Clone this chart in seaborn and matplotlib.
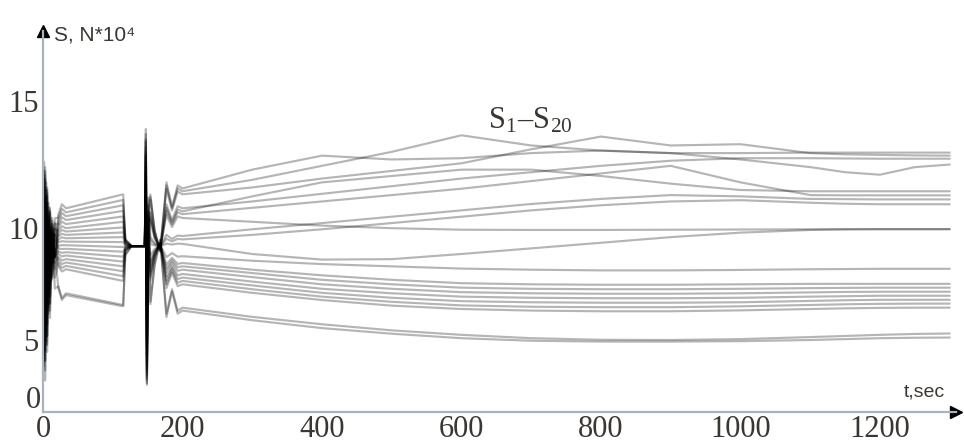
import numpy as np
import pandas as pd
import matplotlib
matplotlib.use("Agg")
import matplotlib.pyplot as plt
import seaborn as sns
from matplotlib.ticker import FixedLocator, NullLocator, FixedFormatter

# ---------------- data ----------------
t = [0, 1.5, 3, 4.5, 6, 8, 10, 13, 17, 22, 27, 33,
     115, 118, 127, 146,
     147.5, 149, 151, 154, 160, 168, 177, 185, 193,
     200, 300, 400, 500, 600, 700, 800, 900, 1000, 1100, 1150, 1200, 1250, 1300]

s01 = [9.2, 12.6, 2.2, 11.8, 4.2, 11.0, 6.0, 10.4, 8.79, 10.54, 10.94, 10.78,
       11.33, 9.52, 9.2, 9.2,
       13.9, 2.0, 11.0, 11.32, 9.91, 8.96, 11.8, 10.85, 11.68,
       11.56, 12.3, 12.85, 12.7, 12.75, 12.95, 13.05, 12.95, 12.7, 12.4, 12.2, 12.1, 12.4, 12.5]
s02 = [9.2, 5.6, 11.12, 6.5, 10.64, 7.4, 10.16, 8.3, 10.39, 10.41, 10.76, 10.62,
       11.11, 9.49, 9.2, 9.2,
       12.6, 4.5, 10.2, 11.23, 9.88, 8.98, 11.68, 10.78, 11.56,
       11.45, 11.9, 12.45, 13.0, 13.65, 13.25, 13.05, 12.95, 12.95, 12.97, 12.97, 12.97, 12.97, 12.97]
s03 = [9.2, 12.26, 2.9, 11.54, 4.7, 10.82, 6.32, 10.28, 8.76, 10.28, 10.60, 10.47,
       10.90, 9.46, 9.2, 9.2,
       13.5, 2.6, 10.8, 11.12, 9.84, 8.99, 11.54, 10.69, 11.44,
       11.33, 11.6, 11.95, 12.25, 12.55, 13.1, 13.6, 13.25, 13.3, 12.95, 12.9, 12.88, 12.86, 12.85]
s04 = [9.2, 6.2, 10.8, 6.95, 10.4, 7.7, 10.0, 8.45, 10.16, 10.15, 10.43, 10.32,
       10.68, 9.42, 9.2, 9.2,
       11.8, 5.5, 9.9, 10.62, 9.67, 9.04, 10.94, 10.31, 10.86,
       10.78, 11.05, 11.35, 11.65, 11.95, 12.2, 12.45, 12.65, 12.75, 12.75, 12.74, 12.73, 12.73, 12.73]
s05 = [9.2, 11.92, 3.6, 11.28, 5.2, 10.64, 6.64, 10.16, 8.72, 10.02, 10.26, 10.16,
       10.46, 9.39, 9.2, 9.2,
       13.0, 3.2, 10.7, 10.51, 9.64, 9.05, 10.81, 10.22, 10.73,
       10.66, 11.25, 11.8, 12.05, 12.3, 12.3, 12.05, 11.75, 11.5, 11.45, 11.45, 11.45, 11.45, 11.45]
s06 = [9.2, 6.5, 10.64, 7.18, 10.28, 7.85, 9.92, 8.53, 9.96, 9.88, 10.08, 10.0,
       10.25, 9.36, 9.2, 9.2,
       11.2, 6.0, 9.6, 10.42, 9.61, 9.07, 10.69, 10.15, 10.62,
       10.55, 10.8, 11.05, 11.3, 11.55, 11.85, 12.15, 12.45, 11.8, 11.3, 11.29, 11.29, 11.29, 11.29]
s07 = [9.2, 11.58, 4.3, 11.02, 5.7, 10.46, 6.96, 10.04, 8.69, 9.75, 9.92, 9.85,
       10.03, 9.32, 9.2, 9.2,
       12.2, 3.8, 10.4, 10.28, 9.56, 9.08, 10.52, 10.04, 10.46,
       10.4, 10.25, 10.1, 10.0, 9.93, 9.92, 9.92, 9.93, 9.94, 9.95, 9.96, 9.96, 9.96, 9.96]
s08 = [9.2, 3.5, 12.24, 4.93, 11.48, 6.35, 10.72, 7.78, 10.21, 9.63, 9.75, 9.7,
       9.81, 9.29, 9.2, 9.2,
       13.7, 1.9, 11.2, 9.61, 9.34, 9.16, 9.7, 9.52, 9.67,
       9.65, 9.95, 10.2, 10.45, 10.7, 10.95, 11.15, 11.3, 11.25, 11.15, 11.14, 11.13, 11.13, 11.13]
s09 = [9.2, 11.07, 5.35, 10.63, 6.45, 10.19, 7.44, 9.86, 8.72, 9.50, 9.59, 9.55,
       9.60, 9.26, 9.2, 9.2,
       11.5, 5.0, 9.8, 9.47, 9.29, 9.17, 9.53, 9.41, 9.52,
       9.5, 9.7, 9.95, 10.2, 10.45, 10.7, 10.9, 11.05, 11.1, 11.0, 10.96, 10.94, 10.94, 10.94]
s10 = [9.2, 4.1, 11.92, 5.38, 11.24, 6.65, 10.56, 7.93, 9.98, 9.37, 9.42, 9.4,
       9.38, 9.23, 9.2, 9.2,
       12.8, 3.0, 10.6, 9.29, 9.23, 9.19, 9.31, 9.27, 9.31,
       9.3, 8.85, 8.6, 8.62, 8.85, 9.1, 9.35, 9.6, 9.8, 9.92, 9.94, 9.95, 9.95, 9.95]
s11 = [9.2, 10.73, 6.05, 10.37, 6.95, 10.01, 7.76, 9.74, 8.68, 9.23, 9.24, 9.24,
       9.16, 9.19, 9.2, 9.2,
       10.9, 6.3, 9.3, 8.8, 9.07, 9.25, 8.71, 8.89, 8.73,
       8.75, 8.55, 8.4, 8.3, 8.2, 8.15, 8.12, 8.12, 8.14, 8.17, 8.18, 8.19, 8.19, 8.19]
s12 = [9.2, 4.7, 11.6, 5.83, 11.0, 6.95, 10.4, 8.08, 9.74, 9.10, 9.07, 9.08,
       8.95, 9.16, 9.2, 9.2,
       12.4, 3.5, 10.0, 8.53, 8.98, 9.28, 8.38, 8.68, 8.41,
       8.45, 8.15, 7.9, 7.7, 7.55, 7.5, 7.48, 7.48, 7.5, 7.52, 7.52, 7.52, 7.52, 7.52]
s13 = [9.2, 10.9, 5.7, 10.5, 6.7, 10.1, 7.6, 9.8, 8.46, 8.97, 8.90, 8.93,
       8.73, 9.13, 9.2, 9.2,
       11.0, 5.8, 9.0, 8.39, 8.93, 9.29, 8.21, 8.57, 8.26,
       8.3, 8.0, 7.7, 7.5, 7.35, 7.3, 7.28, 7.28, 7.3, 7.33, 7.34, 7.35, 7.35, 7.35]
s14 = [9.2, 3.8, 12.08, 5.15, 11.36, 6.5, 10.64, 7.85, 9.71, 8.84, 8.74, 8.78,
       8.51, 9.10, 9.2, 9.2,
       13.2, 2.4, 10.9, 8.26, 8.89, 9.31, 8.05, 8.47, 8.1,
       8.15, 7.82, 7.5, 7.3, 7.15, 7.1, 7.08, 7.08, 7.1, 7.14, 7.16, 7.17, 7.17, 7.17]
s15 = [9.2, 11.24, 5.0, 10.76, 6.2, 10.28, 7.28, 9.92, 8.19, 8.71, 8.56, 8.62,
       8.30, 9.07, 9.2, 9.2,
       11.7, 4.8, 9.2, 8.08, 8.83, 9.32, 7.84, 8.33, 7.9,
       7.96, 7.62, 7.3, 7.1, 6.95, 6.9, 6.88, 6.88, 6.9, 6.95, 6.97, 6.99, 6.99, 6.99]
s16 = [9.2, 7.1, 10.32, 7.63, 10.04, 8.15, 9.76, 8.68, 9.11, 8.58, 8.40, 8.47,
       8.08, 9.03, 9.2, 9.2,
       10.6, 6.6, 8.8, 7.94, 8.78, 9.34, 7.66, 8.22, 7.73,
       7.8, 7.45, 7.12, 6.9, 6.75, 6.7, 6.68, 6.68, 6.7, 6.76, 6.79, 6.81, 6.81, 6.81]
s17 = [9.2, 11.92, 3.6, 11.28, 5.2, 10.64, 6.64, 10.16, 7.8, 8.45, 8.23, 8.32,
       7.86, 9.0, 9.2, 9.2,
       12.9, 2.8, 10.3, 7.81, 8.74, 9.36, 7.5, 8.12, 7.57,
       7.65, 7.28, 6.95, 6.72, 6.56, 6.5, 6.48, 6.48, 6.52, 6.58, 6.61, 6.63, 6.64, 6.64]
s18 = [9.2, 6.2, 10.8, 6.95, 10.4, 7.7, 10.0, 8.45, 9.08, 8.32, 8.07, 8.17,
       7.65, 8.97, 9.2, 9.2,
       11.3, 5.2, 9.0, 7.67, 8.69, 9.37, 7.33, 8.01, 7.42,
       7.5, 7.12, 6.8, 6.55, 6.4, 6.33, 6.3, 6.3, 6.34, 6.4, 6.43, 6.45, 6.46, 6.46]
s19 = [9.2, 11.58, 4.3, 11.02, 5.7, 10.46, 6.96, 10.04, 7.31, 7.41, 6.89, 7.1,
       6.58, 8.81, 9.2, 9.2,
       12.0, 4.0, 9.4, 6.73, 8.38, 9.47, 6.19, 7.28, 6.32,
       6.46, 6.05, 5.72, 5.45, 5.25, 5.1, 5.03, 5.02, 5.06, 5.15, 5.2, 5.25, 5.29, 5.31]
s20 = [9.2, 3.2, 12.4, 4.7, 11.6, 6.2, 10.8, 7.7, 8.91, 7.35, 6.80, 7.02,
       6.52, 8.8, 9.2, 9.2,
       13.4, 2.2, 10.5, 6.62, 8.34, 9.49, 6.04, 7.19, 6.19,
       6.33, 5.9, 5.55, 5.3, 5.1, 4.98, 4.92, 4.92, 4.95, 5.02, 5.06, 5.1, 5.12, 5.13]

series_names = ["S%d" % i for i in range(1, 21)]
series_values = [s01, s02, s03, s04, s05, s06, s07, s08, s09, s10,
                 s11, s12, s13, s14, s15, s16, s17, s18, s19, s20]

x_ticks = [0, 200, 400, 600, 800, 1000, 1200]
y_ticks = [0, 5, 10, 15]
y_tick_labels = ["", "5", "10", "15"]   # the "0" of the S axis is drawn raised, as in the reference

# the reference's vertical axis is not evenly spaced: spacing of its labelled values
y_knot_vals = [-1.0, 0.0, 5.0, 10.0, 15.0, 20.0]
y_knot_pos = [-14.4, 0.0, 72.0, 185.0, 313.0, 441.0]


def y_fwd(v):
    return np.interp(v, y_knot_vals, y_knot_pos)


def y_inv(p):
    return np.interp(p, y_knot_pos, y_knot_vals)


# ---------------- long-form table ----------------
rows_t, rows_s, rows_n = [], [], []
for name, vals in zip(series_names, series_values):
    rows_t.extend(t)
    rows_s.extend(vals)
    rows_n.extend([name] * len(t))
df = pd.DataFrame({"t": rows_t, "S": rows_s, "line": rows_n})

# ---------------- figure ----------------
sns.set_style("white")
plt.rcParams["font.family"] = ["Liberation Serif", "DejaVu Sans"]
plt.rcParams["mathtext.fontset"] = "stix"

W, H = 964, 447
fig = plt.figure(figsize=(W / 100, H / 100), dpi=100)
ax = fig.add_axes([43 / W, 35 / H, 913 / W, 381 / H])
ax.set_yscale("function", functions=(y_fwd, y_inv))

sns.lineplot(data=df, x="t", y="S", units="line", estimator=None,
             color="black", alpha=0.29, linewidth=1.55, legend=False, ax=ax)

ax.set_xlim(0, 1309)
ax.set_ylim(0, 17.75)

axis_col = "#a9b3bf"
for side in ["top", "right"]:
    ax.spines[side].set_visible(False)
for side in ["left", "bottom"]:
    ax.spines[side].set_color(axis_col)
    ax.spines[side].set_linewidth(1.6)

ax.xaxis.set_major_locator(FixedLocator(x_ticks))
ax.yaxis.set_major_locator(FixedLocator(y_ticks))
ax.yaxis.set_major_formatter(FixedFormatter(y_tick_labels))
ax.yaxis.set_minor_locator(NullLocator())
ax.xaxis.set_minor_locator(NullLocator())

lab_col = "#3a3632"
ax.tick_params(axis="x", direction="in", length=7, width=1.0, color="#c0c6cc",
               labelsize=22, labelcolor=lab_col, pad=2)
ax.tick_params(axis="y", direction="in", length=5, width=1.0, color="#c0c6cc",
               labelsize=22, labelcolor=lab_col, pad=3)
ax.set_xlabel("")
ax.set_ylabel("")

# raised "0" of the vertical axis
fig.text(33 / W, 1 - 401 / H, "0", fontsize=22, color=lab_col, ha="center", va="center")

# axis arrows
ax.plot([0], [1], marker="^", color="black", markersize=8, transform=ax.transAxes,
        clip_on=False)
ax.plot([1], [0], marker=">", color="black", markersize=8, transform=ax.transAxes,
        clip_on=False)

# axis titles
fig.text(54 / W, 1 - 35 / H, "S, N*10⁴", fontsize=15, color=lab_col,
         family=["Liberation Sans", "DejaVu Sans"], ha="left", va="center")
fig.text(904 / W, 1 - 392 / H, "t,sec", fontsize=14, color=lab_col,
         family=["Liberation Sans", "DejaVu Sans"], ha="left", va="center")

# curve family label
ax.text(638, 13.9, r"S$_\mathregular{1}$–S$_\mathregular{20}$", fontsize=22,
        color=lab_col, ha="left", va="baseline")

fig.savefig("out.png", dpi=100)
